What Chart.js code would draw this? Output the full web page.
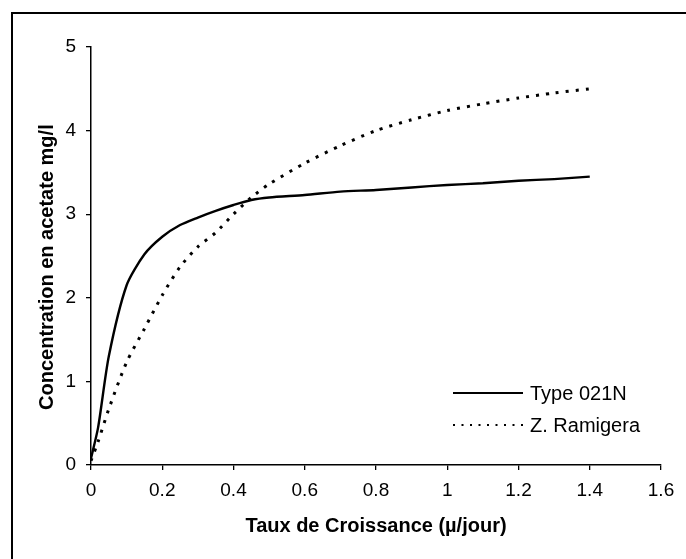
<!DOCTYPE html>
<html>
<head>
<meta charset="utf-8">
<script src="https://cdn.jsdelivr.net/npm/chart.js@4/dist/chart.umd.min.js"></script>
<style>
  html, body { margin: 0; padding: 0; background: #fff; }
  #wrap { width: 686px; height: 559px; position: relative; }
</style>
</head>
<body>
<div id="wrap"><canvas id="growthChart"></canvas></div>
<script>
// growth rate (µ/jour)
const growthRate = [0, 0.02, 0.05, 0.1, 0.15, 0.2, 0.25, 0.3, 0.35, 0.4, 0.45, 0.5, 0.6, 0.7, 0.8, 0.9, 1.0, 1.1, 1.2, 1.3, 1.4];
// acetate concentration mg/l
const type021N = [0.08, 0.45, 1.3, 2.15, 2.52, 2.73, 2.87, 2.96, 3.04, 3.11, 3.17, 3.2, 3.23, 3.27, 3.29, 3.32, 3.35, 3.37, 3.4, 3.42, 3.45];
const zRamigera = [0.05, 0.28, 0.67, 1.23, 1.63, 2.03, 2.37, 2.61, 2.78, 3.0, 3.2, 3.36, 3.61, 3.82, 4.0, 4.13, 4.24, 4.32, 4.39, 4.45, 4.5];
const seriesNames = ["Type 021N", "Z. Ramigera"];
const xTicks = [0, 0.2, 0.4, 0.6, 0.8, 1, 1.2, 1.4, 1.6];
const yTicks = [0, 1, 2, 3, 4, 5];

const FONT = "'Liberation Sans', Arial, sans-serif";

function toPoints(ys) {
  return growthRate.map((x, i) => ({ x: x, y: ys[i] }));
}

// white page plus the scanned frame (top and left edges only)
const framePlugin = {
  id: "frame",
  beforeDraw(chart) {
    const ctx = chart.ctx;
    ctx.save();
    ctx.fillStyle = "#fff";
    ctx.fillRect(0, 0, chart.width, chart.height);
    ctx.strokeStyle = "#000";
    ctx.lineWidth = 2;
    ctx.beginPath();
    ctx.moveTo(12, chart.height);
    ctx.lineTo(12, 13);
    ctx.lineTo(chart.width, 13);
    ctx.stroke();
    ctx.restore();
  }
};

// legend inside the plot, lower right
const insideLegend = {
  id: "insideLegend",
  afterDraw(chart) {
    const ctx = chart.ctx;
    const x0 = 453, x1 = 523, rows = [393, 425];
    ctx.save();
    chart.data.datasets.forEach((ds, i) => {
      const y = rows[i];
      ctx.strokeStyle = "#000";
      ctx.lineWidth = 2;
      ctx.setLineDash(i === 0 ? [] : [2, 6.5]);
      ctx.beginPath();
      ctx.moveTo(x0, y);
      ctx.lineTo(x1, y);
      ctx.stroke();
      ctx.setLineDash([]);
      ctx.fillStyle = "#000";
      ctx.font = "20px " + FONT;
      ctx.textBaseline = "middle";
      ctx.textAlign = "left";
      ctx.fillText(ds.label, x1 + 7, y + 1);
    });
    ctx.restore();
  }
};

new Chart("growthChart", {
  type: "line",
  data: {
    datasets: [
      {
        label: seriesNames[0],
        data: toPoints(type021N),
        borderColor: "#000",
        borderWidth: 2.4,
        pointRadius: 0,
        tension: 0.25
      },
      {
        label: seriesNames[1],
        data: toPoints(zRamigera),
        borderColor: "#000",
        borderWidth: 3,
        borderDash: [3, 7],
        pointRadius: 0,
        tension: 0.25
      }
    ]
  },
  options: {
    responsive: true,
    maintainAspectRatio: false,
    animation: false,
    layout: { padding: { top: 47, right: 25, bottom: 0, left: 0 } },
    plugins: {
      legend: { display: false },
      tooltip: { enabled: false }
    },
    scales: {
      x: {
        type: "linear",
        min: 0,
        max: 1.6,
        afterFit(s) { s.height = 94; },
        afterBuildTicks(s) { s.ticks = xTicks.map(v => ({ value: v })); },
        ticks: {
          color: "#000",
          padding: 9,
          maxRotation: 0,
          font: { family: FONT, size: 19 },
          callback: v => String(v)
        },
        grid: { drawOnChartArea: false, color: "#000", tickLength: 5, lineWidth: 1.3 },
        border: { color: "#000", width: 1.5 },
        title: {
          display: true,
          text: "Taux de Croissance (µ/jour)",
          color: "#000",
          font: { family: FONT, size: 20, weight: "bold" },
          padding: { top: 0, bottom: 21 }
        }
      },
      y: {
        min: 0,
        max: 5,
        afterFit(s) { s.width = 91; },
        afterBuildTicks(s) { s.ticks = yTicks.map(v => ({ value: v })); },
        ticks: {
          color: "#000",
          padding: 10,
          font: { family: FONT, size: 19 }
        },
        grid: { drawOnChartArea: false, color: "#000", tickLength: 5, lineWidth: 1.3 },
        border: { color: "#000", width: 1.5 },
        title: {
          display: true,
          // trailing spaces nudge the rotated title toward the bottom, as in the scan
          text: "Concentration en acetate mg/l    ",
          color: "#000",
          font: { family: FONT, size: 20, weight: "bold" },
          padding: { top: 35, bottom: 0 }
        }
      }
    }
  },
  plugins: [framePlugin, insideLegend]
});
</script>
</body>
</html>
